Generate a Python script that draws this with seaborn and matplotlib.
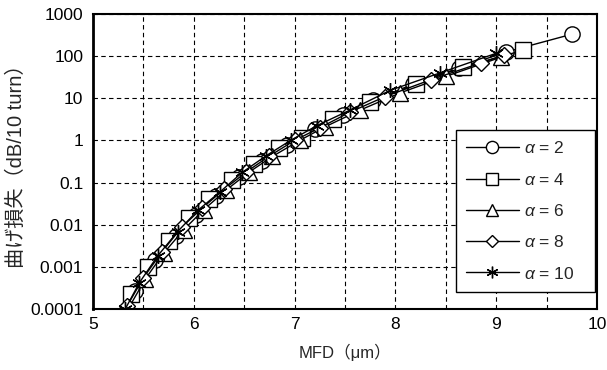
import matplotlib
matplotlib.use("Agg")
import matplotlib.pyplot as plt
import seaborn as sns
import pandas as pd

sns.set_theme(style="white")
plt.rcParams['font.family'] = ['Liberation Sans', 'Noto Sans CJK JP', 'DejaVu Sans']
plt.rcParams['mathtext.fontset'] = 'custom'
plt.rcParams['mathtext.rm'] = 'Liberation Sans'
plt.rcParams['mathtext.it'] = 'Liberation Sans:italic'

# data (MFD in um, bending loss in dB/10 turn)
mfd_a2 = [5.42, 5.62, 5.82, 6.02, 6.22, 6.45, 6.68, 6.92, 7.2, 7.48, 7.78, 8.17, 8.63, 9.1, 9.75]
loss_a2 = [2.7e-4, 1.45e-3, 5.4e-3, 0.0174, 0.048, 0.135, 0.33, 0.76, 1.82, 4.0, 8.9, 21.4, 52.5, 126, 331]

mfd_a4 = [5.38, 5.55, 5.75, 5.95, 6.15, 6.38, 6.6, 6.85, 7.07, 7.38, 7.75, 8.2, 8.67, 9.27]
loss_a4 = [2.24e-4, 1.0e-3, 4.2e-3, 0.0141, 0.0398, 0.112, 0.275, 0.676, 1.17, 3.16, 8.1, 21.4, 55, 138]

mfd_a6 = [5.36, 5.52, 5.7, 5.9, 6.1, 6.32, 6.55, 6.78, 7.05, 7.3, 7.65, 8.05, 8.5, 9.05]
loss_a6 = [1.12e-4, 5.2e-4, 2.1e-3, 7.6e-3, 0.0229, 0.066, 0.178, 0.417, 1.0, 2.09, 5.25, 13.5, 33, 95]

mfd_a8 = [5.34, 5.5, 5.68, 5.88, 6.08, 6.3, 6.52, 6.75, 7.0, 7.25, 7.55, 7.9, 8.35, 8.85, 9.08]
loss_a8 = [1.2e-4, 5.5e-4, 2.2e-3, 8.7e-3, 0.0245, 0.069, 0.178, 0.427, 1.0, 2.0, 4.7, 11, 27.5, 69, 107]

mfd_a10 = [5.32, 5.46, 5.64, 5.84, 6.04, 6.26, 6.48, 6.72, 6.96, 7.22, 7.55, 7.95, 8.44, 9.0]
loss_a10 = [1.0e-4, 4.2e-4, 1.8e-3, 6.9e-3, 0.0219, 0.060, 0.174, 0.437, 1.0, 2.24, 5.25, 15.5, 39.8, 117]

labels = ['$\\alpha$ = 2', '$\\alpha$ = 4', '$\\alpha$ = 6', '$\\alpha$ = 8', '$\\alpha$ = 10']
x_ticks = [5, 6, 7, 8, 9, 10]
y_ticks = [0.0001, 0.001, 0.01, 0.1, 1, 10, 100, 1000]
y_ticklabels = ['0.0001', '0.001', '0.01', '0.1', '1', '10', '100', '1000']

series = [(mfd_a2, loss_a2), (mfd_a4, loss_a4), (mfd_a6, loss_a6), (mfd_a8, loss_a8), (mfd_a10, loss_a10)]
markers = ['o', 's', '^', 'D', (6, 2, 0)]
msizes = [11, 11, 11, 8, 10.5]

fig = plt.figure(figsize=(6.07, 3.70), dpi=100)
ax = fig.add_axes([93/607, 1-309/370, (597-93)/607, (309-14)/370])

for (xs, ys), lab, mk, ms in zip(series, labels, markers, msizes):
    df = pd.DataFrame({'MFD': xs, 'loss': ys})
    sns.lineplot(data=df, x='MFD', y='loss', ax=ax, color='black', linewidth=1.0,
                 marker=mk, markersize=ms, markerfacecolor='white', markeredgecolor='black',
                 markeredgewidth=1.0, estimator=None, sort=False, label=lab)

ax.set_yscale('log')
ax.set_xlim(5, 10)
ax.set_ylim(1e-4, 1e3)
ax.set_xticks(x_ticks)
ax.set_xticks([5.5, 6.5, 7.5, 8.5, 9.5], minor=True)
ax.set_xticklabels([str(t) for t in x_ticks], family='Liberation Sans')
ax.set_yticks(y_ticks)
ax.set_yticklabels(y_ticklabels, family='Liberation Sans')
ax.yaxis.set_minor_locator(matplotlib.ticker.NullLocator())
ax.tick_params(axis='both', which='both', length=0, labelsize=12.5, colors='black')
ax.tick_params(axis='y', pad=7)
ax.tick_params(axis='x', pad=6)
ax.grid(True, which='both', axis='x', color='black', linestyle=(0, (4, 3)), linewidth=0.8)
ax.grid(True, which='major', axis='y', color='black', linestyle=(0, (4, 3)), linewidth=0.8)
for s in ax.spines.values():
    s.set_color('black')
    s.set_linewidth(1.5)
ax.spines['left'].set_linewidth(2.0)

ax.set_xlabel('MFD（μm）', fontsize=12, family=['Liberation Sans', 'Noto Sans CJK JP'], labelpad=8)
ax.set_ylabel('曲げ損失（dB/10 turn）', fontsize=14.5, family=['Liberation Sans', 'Noto Sans CJK JP'], labelpad=3)

leg = ax.legend(loc='upper left', bbox_to_anchor=((456-93)/504, (309-130)/295, (595-456)/504, 0),
                mode='expand', fontsize=12.5, frameon=True, fancybox=False, edgecolor='black',
                framealpha=1, labelspacing=0.88, handlelength=3.0, handletextpad=0.3,
                borderpad=0.6, borderaxespad=0, markerscale=0.8)
leg.get_frame().set_linewidth(1.0)

fig.savefig('out.png', dpi=100)
